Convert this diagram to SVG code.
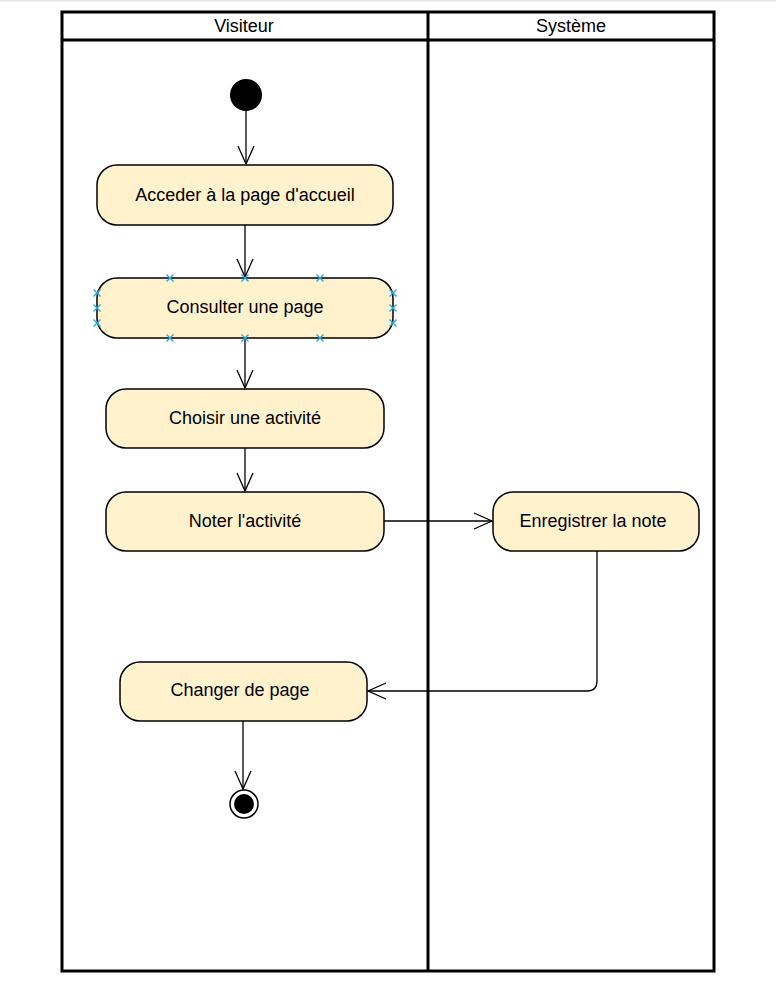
<svg xmlns="http://www.w3.org/2000/svg" width="776" height="990" viewBox="0 0 776 990">
<style>
text{font-family:"Liberation Sans",Arial,sans-serif;font-size:18px;fill:#000;text-anchor:middle;dominant-baseline:central}
.node{fill:#fff2cc;stroke:#000;stroke-width:1.5}
.lane{fill:none;stroke:#000;stroke-width:3}
.edge{fill:none;stroke:#000;stroke-width:1.3}
.x{stroke:#29a9e0;stroke-width:1.4}
</style>
<defs>
<marker id="open" viewBox="0 0 20 20" refX="19" refY="10" markerWidth="20" markerHeight="20" markerUnits="userSpaceOnUse" orient="auto">
<path d="M1,2 L19,10 L1,18" fill="none" stroke="#000" stroke-width="1.3"/>
</marker>
<g id="xm"><path class="x" d="M-3.5,-3.5 L3.5,3.5 M-3.5,3.5 L3.5,-3.5"/></g>
</defs>
<rect width="776" height="990" fill="#fff"/>
<line x1="0" y1="0.5" x2="776" y2="0.5" stroke="#e6e6e6" stroke-width="2"/>
<g id="pool">
<rect class="lane" x="62" y="12" width="652" height="959"/>
<line class="lane" x1="62" y1="40" x2="714" y2="40"/>
<line class="lane" x1="428" y1="12" x2="428" y2="971"/>
<text x="244" y="26">Visiteur</text>
<text x="571" y="26">Système</text>
</g>
<g id="connectors">
<line class="edge" x1="246" y1="111" x2="246" y2="164" marker-end="url(#open)"/>
<line class="edge" x1="245" y1="225" x2="245" y2="277" marker-end="url(#open)"/>
<line class="edge" x1="245" y1="338" x2="245" y2="388" marker-end="url(#open)"/>
<line class="edge" x1="245" y1="448" x2="245" y2="491" marker-end="url(#open)"/>
<line class="edge" x1="384" y1="521" x2="492" y2="521" marker-end="url(#open)"/>
<path class="edge" d="M597,551 L597,681 Q597,691 587,691 L368,691" marker-end="url(#open)"/>
<line class="edge" x1="243" y1="721" x2="243" y2="789" marker-end="url(#open)"/>
</g>
<g id="start"><circle cx="246" cy="95" r="16" fill="#000"/></g>
<g id="n1"><rect class="node" x="97" y="165" width="296" height="60" rx="20"/><text x="245" y="195">Acceder à la page d'accueil</text></g>
<g id="n2"><rect class="node" x="97" y="278" width="296" height="60" rx="20"/><text x="245" y="307">Consulter une page</text>
<use href="#xm" x="170" y="278"/><use href="#xm" x="245" y="278"/><use href="#xm" x="320" y="278"/>
<use href="#xm" x="170" y="338"/><use href="#xm" x="245" y="338"/><use href="#xm" x="320" y="338"/>
<use href="#xm" x="97" y="293"/><use href="#xm" x="97" y="308"/><use href="#xm" x="97" y="323"/>
<use href="#xm" x="393" y="293"/><use href="#xm" x="393" y="308"/><use href="#xm" x="393" y="323"/>
</g>
<g id="n3"><rect class="node" x="106" y="389" width="278" height="59" rx="20"/><text x="245" y="418">Choisir une activité</text></g>
<g id="n4"><rect class="node" x="106" y="492" width="278" height="59" rx="20"/><text x="245" y="521">Noter l'activité</text></g>
<g id="n5"><rect class="node" x="493" y="492" width="206" height="59" rx="20"/><text x="593" y="521">Enregistrer la note</text></g>
<g id="n6"><rect class="node" x="120" y="662" width="247" height="59" rx="20"/><text x="240" y="690">Changer de page</text></g>
<g id="end"><circle cx="244" cy="804" r="14" fill="#fff" stroke="#000" stroke-width="1.5"/><circle cx="244" cy="804" r="10" fill="#000"/></g>
</svg>
